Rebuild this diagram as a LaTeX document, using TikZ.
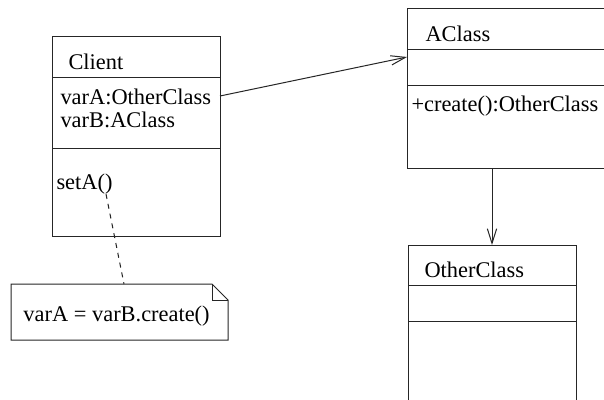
\documentclass[tikz,border=0pt]{standalone}
\usepackage{fontspec}
\setmainfont{Liberation Serif}
\usetikzlibrary{arrows.meta,fit}
\begin{document}
\begin{tikzpicture}[x=0.75pt,y=-0.75pt,line width=0.75pt,
  umlbox/.style={draw=black!85,inner sep=0pt},
  sep/.style={draw=black!85},
  lbl/.style={anchor=base west,inner sep=0pt,font=\fontsize{16.8}{20}\selectfont},
  barb/.style={draw=black!85,-{Straight Barb[length=11pt,width=7pt]}}]
\useasboundingbox (0,0) rectangle (604,400);
\clip (0,0) rectangle (604,400);
\fill[white] (0,0) rectangle (604,400);
% Client
\coordinate (cTL) at (52,36); \coordinate (cBR) at (220,236);
\node[umlbox,fit=(cTL)(cBR)] (client) {};
\draw[sep] (52,77) -- (220,77);
\draw[sep] (52,148) -- (220,148);
\node[lbl] (cname) at (68,69) {Client};
\node[lbl] (cva) at (60,104) {varA:OtherClass};
\node[lbl] (cvb) at (60,127) {varB:AClass};
\node[lbl] (cset) at (56,189) {setA()};
% AClass
\coordinate (aTL) at (407,8); \coordinate (aBR) at (630,168);
\node[umlbox,fit=(aTL)(aBR)] (aclass) {};
\draw[sep] (407,49) -- (630,49);
\draw[sep] (407,85) -- (630,85);
\node[lbl] (aname) at (425,41) {AClass};
\node[lbl] (aop) at (411,111) {+create():OtherClass};
% OtherClass
\coordinate (oTL) at (408,245); \coordinate (oBR) at (576,430);
\node[umlbox,fit=(oTL)(oBR)] (other) {};
\draw[sep] (408,285) -- (576,285);
\draw[sep] (408,321) -- (576,321);
\node[lbl] (oname) at (424,277) {OtherClass};
% Note
\draw[sep] (11,284) -- (212,284) -- (228,300) -- (228,340) -- (11,340) -- cycle;
\draw[sep] (212,284) -- (212,300) -- (228,300);
\node[lbl] (ntext) at (23,321) {varA = varB.create()};
\coordinate (ntop) at (124,284);
% connectors
\coordinate (c1) at (220,96);
\coordinate (a1) at (407,57);
\draw[barb] (c1) -- (a1);
\coordinate (a2) at (492,168);
\coordinate (o1) at (492,245);
\draw[barb] (a2) -- (o1);
\coordinate (s1) at (106,194);
\draw[draw=black!85,dash pattern=on 3.75pt off 3.75pt] (s1) -- (ntop);
\end{tikzpicture}
\end{document}
